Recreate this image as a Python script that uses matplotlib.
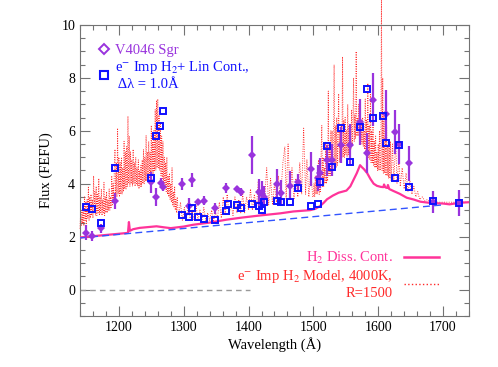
import numpy as np
import matplotlib
matplotlib.use('Agg')
import matplotlib.pyplot as plt
from matplotlib.lines import Line2D

plt.rcParams['font.family'] = ['Liberation Serif', 'DejaVu Serif']
plt.rcParams['mathtext.fontset'] = 'stix'

# observed V4046 Sgr binned fluxes (FEFU) with errors
obs_wave = [1149, 1159, 1172, 1194, 1250, 1257, 1264.5, 1268.5, 1297, 1308, 1313, 1322,
            1331, 1348, 1365, 1382, 1388, 1405, 1416, 1420, 1423.5, 1443.5, 1450,
            1464.5, 1477, 1496.5, 1507, 1510, 1521, 1529, 1543, 1556, 1572, 1582,
            1592, 1612, 1625.5, 1632, 1647, 1684, 1724]
obs_flux = [2.15, 2.02, 2.32, 3.35, 4.05, 3.5, 4.02, 3.88, 3.98, 3.15, 4.14, 3.31,
            3.35, 3.07, 3.82, 3.79, 3.69, 5.1, 3.67, 3.6, 3.51, 3.98, 3.64,
            3.92, 4.08, 4.57, 4.2, 4.41, 4.88, 4.9, 5.45, 5.48, 6.35, 5.17,
            7.18, 6.63, 5.97, 5.5, 4.78, 3.32, 3.27]
obs_err = [0.28, 0.18, 0.17, 0.29, 0.4, 0.34, 0.19, 0.16, 0.22, 0.32, 0.27, 0.13,
           0.17, 0.21, 0.19, 0.12, 0.16, 0.72, 0.5, 0.5, 0.42, 0.56, 0.5,
           0.55, 0.3, 0.64, 0.49, 0.57, 0.6, 0.6, 0.68, 0.77, 0.87, 0.75,
           1.0, 0.93, 0.83, 0.77, 0.66, 0.42, 0.48]

# e- impact H2 + linear continuum model, binned
bin_wave = [1149, 1159, 1172, 1194, 1250, 1257, 1264, 1268.5, 1297, 1308, 1313, 1322,
            1331, 1348, 1365, 1368, 1382, 1388, 1405, 1416, 1420, 1423.5, 1443.5,
            1450, 1464.5, 1477, 1496, 1507, 1510, 1521.5, 1529, 1543, 1556, 1572,
            1582, 1592, 1607, 1612, 1625.5, 1632, 1648, 1684, 1724]
bin_flux = [3.13, 3.05, 2.52, 4.59, 4.23, 5.8, 6.17, 6.75, 2.81, 2.75, 3.1, 2.73,
            2.68, 2.63, 2.96, 3.24, 3.18, 3.09, 3.23, 3.15, 2.99, 3.3, 3.34,
            3.3, 3.3, 3.83, 3.14, 3.23, 4.06, 5.44, 4.62, 6.12, 4.83, 6.14,
            7.59, 6.5, 6.55, 5.54, 4.23, 5.45, 3.87, 3.33, 3.27]

# e- impact H2 model spectrum, 4000 K, R=1500 (1 A steps in the two bands)
band1_wave = list(range(1140, 1291))
band1_flux = [2.3, 2.9, 2.4, 3.0, 2.5, 3.2, 2.4, 3.5, 2.6, 3.3, 2.5, 3.4, 2.7, 3.9, 2.6, 3.5,
              2.7, 3.6, 2.8, 3.4, 2.7, 4.3, 2.9, 3.7, 2.8, 3.9, 2.8, 3.6, 2.9, 4.2, 2.8, 3.5,
              2.9, 3.8, 2.8, 3.4, 2.9, 4.05, 2.8, 3.5, 2.9, 3.7, 2.9, 3.4, 3.0, 3.8, 3.0, 3.5,
              3.1, 4.3, 3.2, 4.0, 3.3, 4.6, 5.3, 3.4, 4.8, 3.5, 6.1, 3.6, 5.0, 3.5, 4.8, 3.6,
              5.0, 3.6, 4.6, 3.7, 5.6, 3.8, 5.2, 3.8, 5.4, 3.9, 6.55, 4.0, 5.8, 3.9, 5.2, 4.0,
              4.9, 3.9, 5.3, 4.0, 4.8, 3.9, 5.0, 4.0, 4.6, 3.9, 4.9, 3.8, 4.5, 3.9, 4.7, 3.9,
              4.9, 4.0, 5.3, 4.0, 5.0, 4.1, 5.83, 4.1, 5.2, 4.2, 5.6, 4.2, 5.2, 4.3, 6.2, 4.3,
              5.6, 4.4, 6.0, 4.5, 6.8, 4.5, 7.15, 4.6, 7.2, 4.6, 6.6, 4.5, 6.3, 4.3, 5.8, 4.2,
              5.6, 4.0, 5.0, 3.9, 4.8, 3.7, 5.0, 3.6, 4.3, 3.5, 4.4, 3.4, 4.0, 3.3, 4.6, 3.2,
              3.7, 3.1, 3.9, 3.0, 3.4, 2.9, 3.5]
mid_wave = [1292, 1295, 1298, 1301, 1304, 1307, 1310, 1313, 1316, 1319, 1322, 1325, 1328,
            1331, 1334, 1337, 1340, 1343, 1346, 1349, 1352, 1355, 1358, 1361, 1364, 1367,
            1370, 1373, 1376, 1379, 1382, 1385, 1388, 1391, 1394, 1397, 1400, 1403, 1406,
            1409, 1412, 1415, 1418, 1421, 1424, 1428, 1431, 1434, 1437, 1440, 1443, 1446,
            1449, 1453, 1456, 1458, 1461, 1464, 1467, 1470, 1473, 1476, 1479, 1482, 1485,
            1488, 1490, 1493, 1496, 1499]
mid_flux = [2.7, 3.3, 2.6, 3.1, 2.6, 3.3, 2.6, 3.0, 2.6, 3.2, 2.6, 3.0, 2.6,
            3.1, 2.6, 2.9, 2.6, 3.0, 2.6, 2.9, 2.7, 3.3, 2.7, 3.5, 2.8, 3.6,
            2.8, 3.3, 2.8, 3.5, 2.9, 3.4, 2.9, 3.6, 2.9, 3.5, 3.0, 3.8, 3.0,
            3.6, 3.0, 4.1, 3.1, 3.9, 3.1, 4.6, 3.2, 4.2, 3.2, 4.0, 3.3, 4.3,
            3.3, 4.8, 5.4, 3.4, 5.5, 3.5, 4.6, 3.4, 4.2, 3.5, 4.8, 3.6, 6.1,
            3.6, 4.9, 3.5, 4.5, 3.5]
band2_wave = list(range(1500, 1621))
band2_flux = [3.5, 4.0, 3.5, 4.3, 3.6, 4.0, 3.6, 4.6, 4.9, 3.6, 4.4, 3.7, 5.2, 6.2, 3.9, 5.0,
              3.9, 4.6, 4.0, 5.6, 4.0, 5.2, 4.1, 7.5, 4.3, 5.5, 4.3, 6.0, 4.4, 6.0, 4.5, 5.6,
              8.5, 4.6, 6.2, 4.6, 6.5, 4.7, 5.8, 7.4, 4.8, 6.0, 4.9, 6.2, 5.0, 8.8, 5.0, 6.4,
              5.0, 6.5, 5.1, 6.0, 5.0, 7.0, 5.1, 6.2, 5.2, 6.0, 5.3, 6.8, 5.4, 6.3, 8.0, 5.6,
              6.6, 5.7, 9.0, 5.8, 6.5, 5.8, 7.0, 5.7, 6.8, 5.6, 6.2, 5.5, 6.5, 5.4, 6.0, 5.3,
              7.2, 5.1, 6.4, 5.0, 7.8, 5.0, 6.2, 4.9, 7.5, 4.8, 6.0, 4.8, 6.3, 4.7, 5.6, 4.6,
              5.8, 4.6, 5.2, 4.5, 5.5, 4.5, 6.0, 4.5, 5.0, 11.0, 4.5, 8.0, 4.4, 6.7, 4.4, 5.8,
              4.3, 6.2, 4.3, 5.4, 4.2, 5.5, 4.2, 5.6, 4.1]
tail_wave = [1622, 1624, 1627, 1629, 1632, 1634, 1637, 1640, 1643, 1646, 1649, 1652, 1655,
             1658, 1661, 1664, 1668, 1672, 1676, 1680, 1690, 1700, 1740]
tail_flux = [5.5, 4.1, 5.6, 4.0, 5.0, 3.9, 4.6, 3.8, 4.4, 3.7, 4.1, 3.6, 3.9,
             3.5, 3.7, 3.4, 3.5, 3.35, 3.4, 3.3, 3.3, 3.3, 3.3]
model_wave = band1_wave + mid_wave + band2_wave + tail_wave
model_flux = band1_flux + mid_flux + band2_flux + tail_flux

# H2 dissociation continuum
cont_wave = [1140, 1214, 1215.5, 1217, 1222, 1232, 1245, 1258, 1270, 1280, 1300, 1315,
             1340, 1366, 1390, 1418, 1449, 1469, 1495, 1503, 1510, 1516, 1521, 1530,
             1539, 1545, 1551, 1557, 1562, 1567, 1572, 1575, 1578, 1583, 1588, 1593,
             1598, 1604, 1608, 1609, 1611, 1614, 1615, 1617, 1623, 1633, 1644, 1655,
             1665, 1678, 1690, 1700, 1710, 1726, 1740]
cont_flux = [1.97, 2.14, 2.55, 2.22, 2.28, 2.33, 2.36, 2.39, 2.35, 2.32, 2.38, 2.45,
             2.53, 2.64, 2.72, 2.8, 2.88, 2.95, 3.0, 3.05, 3.15, 3.28, 3.41, 3.55,
             3.66, 3.7, 3.74, 3.9, 4.15, 4.4, 4.7, 4.62, 4.55, 4.4, 4.18, 4.0,
             3.92, 3.88, 3.87, 3.97, 3.86, 3.84, 3.95, 3.8, 3.73, 3.62, 3.47, 3.4,
             3.32, 3.28, 3.26, 3.25, 3.22, 3.28, 3.3]

# linear continuum
lin_wave = [1140, 1700]
lin_flux = [1.95, 3.2]

purple = '#9933dd'
blue = '#1010ff'
pink = '#ff3399'
red = '#ff2a2a'

fig = plt.figure(figsize=(4.98, 3.67), dpi=100)
ax = fig.add_axes([0.1606, 0.139, 0.7811, 0.793])

ax.hlines(0, 1140, 1402, colors='0.6', linestyles=(0, (4, 3)), lw=1.0)
ax.plot(model_wave, model_flux, color=red, ls=(0, (1, 1.6)), lw=0.65,
        clip_on=False, zorder=2)
ax.plot(cont_wave, cont_flux, color=pink, lw=1.6, zorder=3)
ax.plot(lin_wave, lin_flux, color='#3355ff', ls=(0, (5, 3)), lw=1.0, zorder=3)
ax.errorbar(obs_wave, obs_flux, yerr=obs_err, fmt='D', color=purple, ms=4,
            mew=0, elinewidth=1.6, capsize=3, capthick=1.6, zorder=4)
ax.plot(bin_wave, bin_flux, 's', mfc='none', mec=blue, ms=4.3, mew=1.4, zorder=5)

ax.set_xlim(1140, 1740)
ax.set_ylim(-1, 10)
ax.set_xticks([1200, 1300, 1400, 1500, 1600, 1700])
ax.set_xticks(np.arange(1140, 1741, 20), minor=True)
ax.set_yticks([0, 2, 4, 6, 8, 10])
ax.set_yticks(np.arange(-1, 10.01, 0.5), minor=True)
ax.tick_params(which='both', direction='in', top=True, right=True, color='0.45',
               labelsize=10)
ax.tick_params(which='major', length=7, width=0.8)
ax.tick_params(which='minor', length=3.5, width=0.8)
for s in ax.spines.values():
    s.set_color('0.45')
    s.set_linewidth(0.8)
ax.set_xlabel('Wavelength (Å)', fontsize=10.5, labelpad=2)
ax.set_ylabel('Flux (FEFU)', fontsize=10.5, labelpad=6)

h1 = [Line2D([], [], ls='none', marker='D', mfc='none', mec=purple, ms=5, mew=1.4),
      Line2D([], [], ls='none', marker='s', mfc='none', mec=blue, ms=6, mew=1.5)]
leg1 = ax.legend(h1, ['V4046 Sgr', 'e$^{-}$ Imp H$_2$+ Lin Cont.,\n Δλ = 1.0Å'],
                 loc='upper left', bbox_to_anchor=(0.02, 0.97), frameon=False,
                 fontsize=10.5, handlelength=0.8, handletextpad=0.4, labelspacing=0.15,
                 borderpad=0.2)
for t, c in zip(leg1.get_texts(), [purple, blue]):
    t.set_color(c)
ax.add_artist(leg1)

h2 = [Line2D([], [], color=pink, lw=1.8),
      Line2D([], [], color=red, ls=':', lw=1.0)]
leg2 = ax.legend(h2, ['H$_2$ Diss. Cont.', 'e$^{-}$ Imp H$_2$ Model, 4000K,\nR=1500'],
                 loc='lower right', bbox_to_anchor=(0.95, 0.02), frameon=False,
                 markerfirst=False, fontsize=10.5, handlelength=2.4, handletextpad=0.8,
                 labelspacing=0.1, borderpad=0.2)
for t, c in zip(leg2.get_texts(), [pink, red]):
    t.set_color(c)
    t.set_multialignment('right')

fig.savefig('out.png', dpi=100)
